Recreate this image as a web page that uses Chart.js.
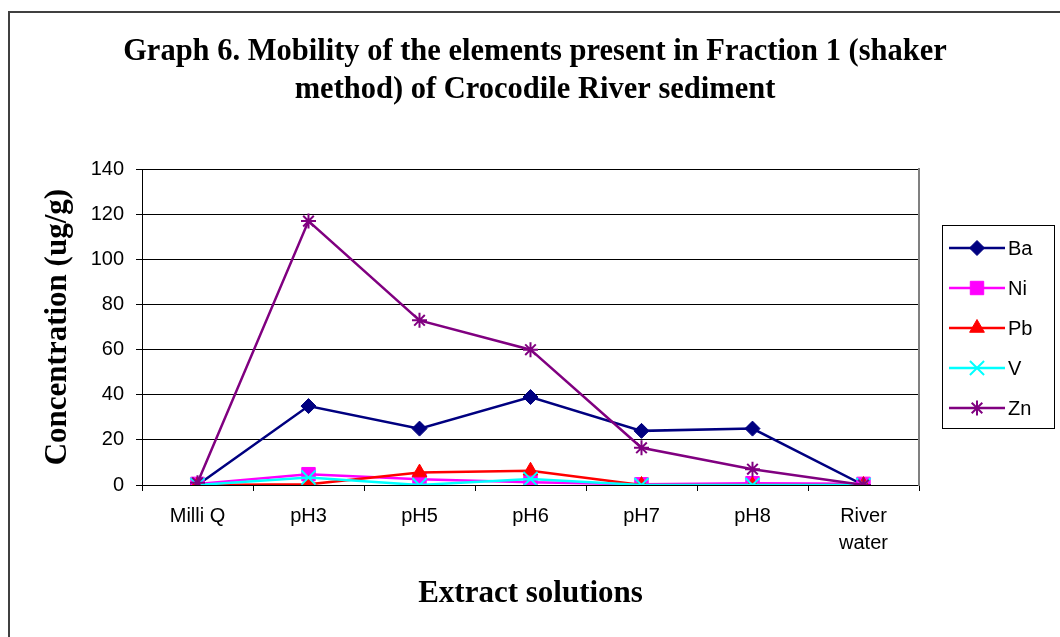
<!DOCTYPE html>
<html>
<head>
<meta charset="utf-8">
<script src="https://cdn.jsdelivr.net/npm/chart.js@4.4.0/dist/chart.umd.min.js"></script>
<style>
  body { margin: 0; background: #fff; }
  canvas { display: block; }
</style>
</head>
<body>
<canvas id="grafico" width="1060" height="637"></canvas>
<script>
const extractos = ['Milli Q', 'pH3', 'pH5', 'pH6', 'pH7', 'pH8', ['River', 'water']];
const ba = [0, 35, 25, 39, 24, 25, 0];
const ni = [0.5, 4.8, 2.5, 1.2, 0.3, 0.8, 0.5];
const pb = [0, 0.3, 5.5, 6.3, 0, 0, 0];
const v  = [0, 3.3, 0, 2.7, 0, 0, 0];
const zn = [1, 117, 73, 60, 16.5, 7, 0];
const yTicks = [0, 20, 40, 60, 80, 100, 120, 140];

const tickFont = { family: '"Liberation Sans", Arial, sans-serif', size: 20 };
const titleFont = { family: '"Liberation Serif", "Times New Roman", serif', size: 31, weight: 'bold' };

function serie(label, dados, cor, estilo, raio, ordem, cruz) {
    return {
        label: label,
        data: dados,
        borderColor: cor,
        backgroundColor: cor,
        borderWidth: 2.5,
        tension: 0,
        pointStyle: estilo,
        pointRadius: raio,
        pointHoverRadius: raio,
        pointBackgroundColor: cor,
        pointBorderColor: cor,
        pointBorderWidth: cruz ? 2 : 1,
        order: ordem
    };
}

const fundo = {
    id: 'fundo',
    beforeDraw(chart) {
        const ctx = chart.ctx;
        ctx.save();
        ctx.fillStyle = '#fff';
        ctx.fillRect(0, 0, chart.width, chart.height);
        ctx.strokeStyle = '#404040';
        ctx.lineWidth = 2;
        ctx.strokeRect(9, 12, 1200, 800);
        ctx.restore();
    }
};

const legenda = {
    id: 'legenda',
    afterDraw(chart) {
        const ctx = chart.ctx;
        ctx.save();
        ctx.strokeStyle = '#000';
        ctx.lineWidth = 1;
        ctx.strokeRect(942.5, 225.5, 112, 203);
        ctx.font = '20px "Liberation Sans", Arial, sans-serif';
        ctx.textBaseline = 'middle';
        chart.data.datasets.forEach((ds, i) => {
            const y = 248 + i * 40;
            ctx.strokeStyle = ds.borderColor;
            ctx.fillStyle = ds.borderColor;
            ctx.lineWidth = 2.5;
            ctx.beginPath();
            ctx.moveTo(949, y);
            ctx.lineTo(1005, y);
            ctx.stroke();
            ctx.lineWidth = ds.pointBorderWidth;
            Chart.helpers.drawPoint(ctx, {
                pointStyle: ds.pointStyle,
                radius: ds.pointRadius,
                rotation: 0,
                borderWidth: ds.pointBorderWidth
            }, 977, y);
            ctx.fillStyle = '#000';
            ctx.fillText(ds.label, 1008, y + 1);
        });
        ctx.restore();
    }
};

const ctx = document.getElementById('grafico');
new Chart(ctx, {
    type: 'line',
    data: {
        labels: extractos,
        datasets: [
            serie('Ba', ba, '#000080', 'rectRot', 7.5, 4, false),
            serie('Ni', ni, '#FF00FF', 'rect', 9.5, 3, false),
            serie('Pb', pb, '#FF0000', 'triangle', 8.5, 2, false),
            serie('V', v, '#00FFFF', 'crossRot', 10, 1, true),
            serie('Zn', zn, '#800080', 'star', 7.5, 0, true)
        ]
    },
    options: {
        responsive: false,
        animation: false,
        layout: { padding: { left: 10, right: 0, top: 0, bottom: 0 } },
        plugins: {
            legend: { display: false },
            tooltip: { enabled: false },
            title: {
                display: true,
                text: ['Graph 6. Mobility of the elements present in Fraction 1 (shaker', 'method) of Crocodile River sediment'],
                color: '#000',
                font: { family: titleFont.family, size: 30.5, weight: 'bold', lineHeight: 1.25 },
                padding: { top: 33, bottom: 60 }
            }
        },
        scales: {
            x: {
                offset: true,
                grid: { display: true, drawOnChartArea: false, offset: true, color: '#000', tickLength: 6 },
                border: { color: '#000', width: 1 },
                ticks: { color: '#000', font: { family: tickFont.family, size: 20, lineHeight: 1.35 }, padding: 12, maxRotation: 0 },
                title: { display: true, text: 'Extract solutions', color: '#000', font: titleFont, padding: { top: 0, bottom: 24 } },
                afterFit: (s) => { s.height = 152; }
            },
            y: {
                min: 0,
                max: 140,
                afterBuildTicks: (s) => { s.ticks = yTicks.map(t => ({ value: t })); },
                grid: { color: '#000', lineWidth: 1, tickLength: 6, tickColor: '#000' },
                border: { color: '#000', width: 1 },
                ticks: { color: '#000', font: tickFont, padding: 12 },
                title: { display: true, text: 'Concentration (ug/g)', color: '#000', font: titleFont, padding: { top: 29, bottom: 0 } },
                afterFit: (s) => { s.width = 132; }
            },
            y2: {
                position: 'right',
                min: 0,
                max: 140,
                grid: { display: false },
                border: { display: true, color: '#808080', width: 2 },
                ticks: { display: false },
                afterFit: (s) => { s.width = 141; }
            }
        }
    },
    plugins: [fundo, legenda]
});
</script>
</body>
</html>
